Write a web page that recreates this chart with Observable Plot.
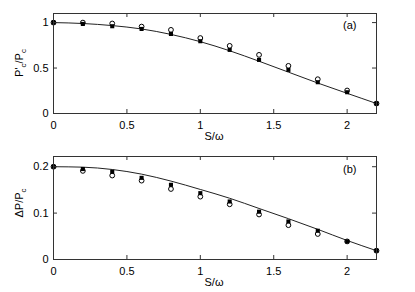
<!DOCTYPE html>
<html>
<head>
<meta charset="utf-8">
<script src="https://cdn.jsdelivr.net/npm/d3@7"></script>
<script src="https://cdn.jsdelivr.net/npm/@observablehq/plot@0.6"></script>
<style>
body { margin: 0; background: #fff; }
#chart { width: 415px; }
#chart svg { display: block; }
</style>
</head>
<body>
<div id="chart"></div>
<script>
// x positions (S/ω)
const xs = [0, 0.2, 0.4, 0.6, 0.8, 1.0, 1.2, 1.4, 1.6, 1.8, 2.0, 2.2];

// Panel (a): P'c/Pc
const aCurve   = [1.0, 0.99, 0.967, 0.93, 0.87, 0.79, 0.69, 0.575, 0.455, 0.335, 0.222, 0.11];
const aSquares = [1.0, 0.985, 0.96, 0.93, 0.875, 0.795, 0.70, 0.59, 0.48, 0.344, 0.234, 0.11];
const aCircles = [1.0, 1.0, 0.99, 0.956, 0.92, 0.83, 0.744, 0.645, 0.524, 0.377, 0.253, 0.11];

// Panel (b): ΔP/Pc
const bCurve   = [0.2, 0.199, 0.194, 0.184, 0.169, 0.151, 0.132, 0.11, 0.088, 0.065, 0.041, 0.019];
const bSquares = [0.2, 0.195, 0.189, 0.176, 0.161, 0.143, 0.125, 0.103, 0.082, 0.062, 0.039, 0.019];
const bCircles = [0.2, 0.191, 0.181, 0.170, 0.152, 0.1355, 0.119, 0.097, 0.074, 0.055, 0.039, 0.019];

const xTicks = [0, 0.5, 1, 1.5, 2];
const xTickLabels = ["0", "0.5", "1", "1.5", "2"];
const aYTicks = [0, 0.5, 1];
const aYTickLabels = ["0", "0.5", "1"];
const bYTicks = [0, 0.1, 0.2];
const bYTickLabels = ["0", "0.1", "0.2"];

const FONT = "'Liberation Sans', Arial, Helvetica, sans-serif";

function panel({curve, squares, circles, yDomain, yTicks, yTickLabels, marginTop, tag, tagDy}) {
  const W = 415, H = 146, mL = 53, mR = 39, mB = 33;
  const innerW = W - mL - mR, innerH = H - marginTop - mB;
  const curveData = xs.map((x, i) => ({x, y: curve[i]}));
  const sqData = xs.map((x, i) => ({x, y: squares[i]}));
  const ciData = xs.map((x, i) => ({x, y: circles[i]}));
  const tick = 4;
  return Plot.plot({
    width: W, height: H,
    marginLeft: mL, marginRight: mR, marginTop, marginBottom: mB,
    style: {fontFamily: FONT, fontSize: "11px", color: "#000", background: "#fff"},
    x: {domain: [0, 2.2]},
    y: {domain: yDomain},
    marks: [
      Plot.line(curveData, {x: "x", y: "y", stroke: "#222", strokeWidth: 1, curve: "monotone-x"}),
      Plot.dot(sqData, {x: "x", y: "y", symbol: "square", r: 2.3, fill: "#000", stroke: "none"}),
      Plot.dot(ciData, {x: "x", y: "y", symbol: "circle", r: 2.4, fill: "none", stroke: "#000", strokeWidth: 1}),
      Plot.frame({stroke: "#333", strokeWidth: 1}),
      // inward ticks on all four sides
      Plot.ruleX(xTicks, {insetTop: innerH - tick, stroke: "#333"}),
      Plot.ruleX(xTicks, {insetBottom: innerH - tick, stroke: "#333"}),
      Plot.ruleY(yTicks, {insetRight: innerW - tick, stroke: "#333"}),
      Plot.ruleY(yTicks, {insetLeft: innerW - tick, stroke: "#333"}),
      Plot.axisX(xTicks, {tickSize: 0, tickPadding: 8, tickFormat: (d, i) => xTickLabels[i], label: null, fontSize: 11}),
      Plot.axisY(yTicks, {tickSize: 0, tickPadding: 5, tickFormat: (d, i) => yTickLabels[i], label: null, fontSize: 11}),
      Plot.text([tag], {frameAnchor: "top-right", dx: -20, dy: tagDy, lineAnchor: "top", fontSize: 11, fill: "#000"})
    ]
  });
}

const chart = document.getElementById("chart");

const svgA = panel({curve: aCurve, squares: aSquares, circles: aCircles, yDomain: [0, 1.1],
  yTicks: aYTicks, yTickLabels: aYTickLabels, marginTop: 13, tag: "(a)", tagDy: 8});
const svgB = panel({curve: bCurve, squares: bSquares, circles: bCircles, yDomain: [0, 0.222],
  yTicks: bYTicks, yTickLabels: bYTickLabels, marginTop: 10, tag: "(b)", tagDy: 9});
chart.appendChild(svgA);
chart.appendChild(svgB);

// axis titles with subscripts
function addLabels(svg, yParts, yCenter) {
  const s = d3.select(svg);
  s.append("text")
    .attr("x", 214).attr("y", 140)
    .attr("text-anchor", "middle")
    .attr("font-family", FONT).attr("font-size", 11).attr("fill", "#000")
    .text("S/ω");
  const t = s.append("text")
    .attr("transform", `translate(23,${yCenter}) rotate(-90)`)
    .attr("text-anchor", "middle")
    .attr("font-family", FONT).attr("font-size", 11).attr("fill", "#000");
  let shift = 0;
  yParts.forEach(([str, sub]) => {
    const target = sub ? 3 : 0;
    t.append("tspan")
      .attr("font-size", sub ? 8 : 11)
      .attr("dy", target - shift)
      .text(str);
    shift = target;
  });
}
addLabels(svgA, [["P'", false], ["c", true], ["/P", false], ["c", true]], 63);
addLabels(svgB, [["ΔP/P", false], ["c", true]], 57);
</script>
</body>
</html>
